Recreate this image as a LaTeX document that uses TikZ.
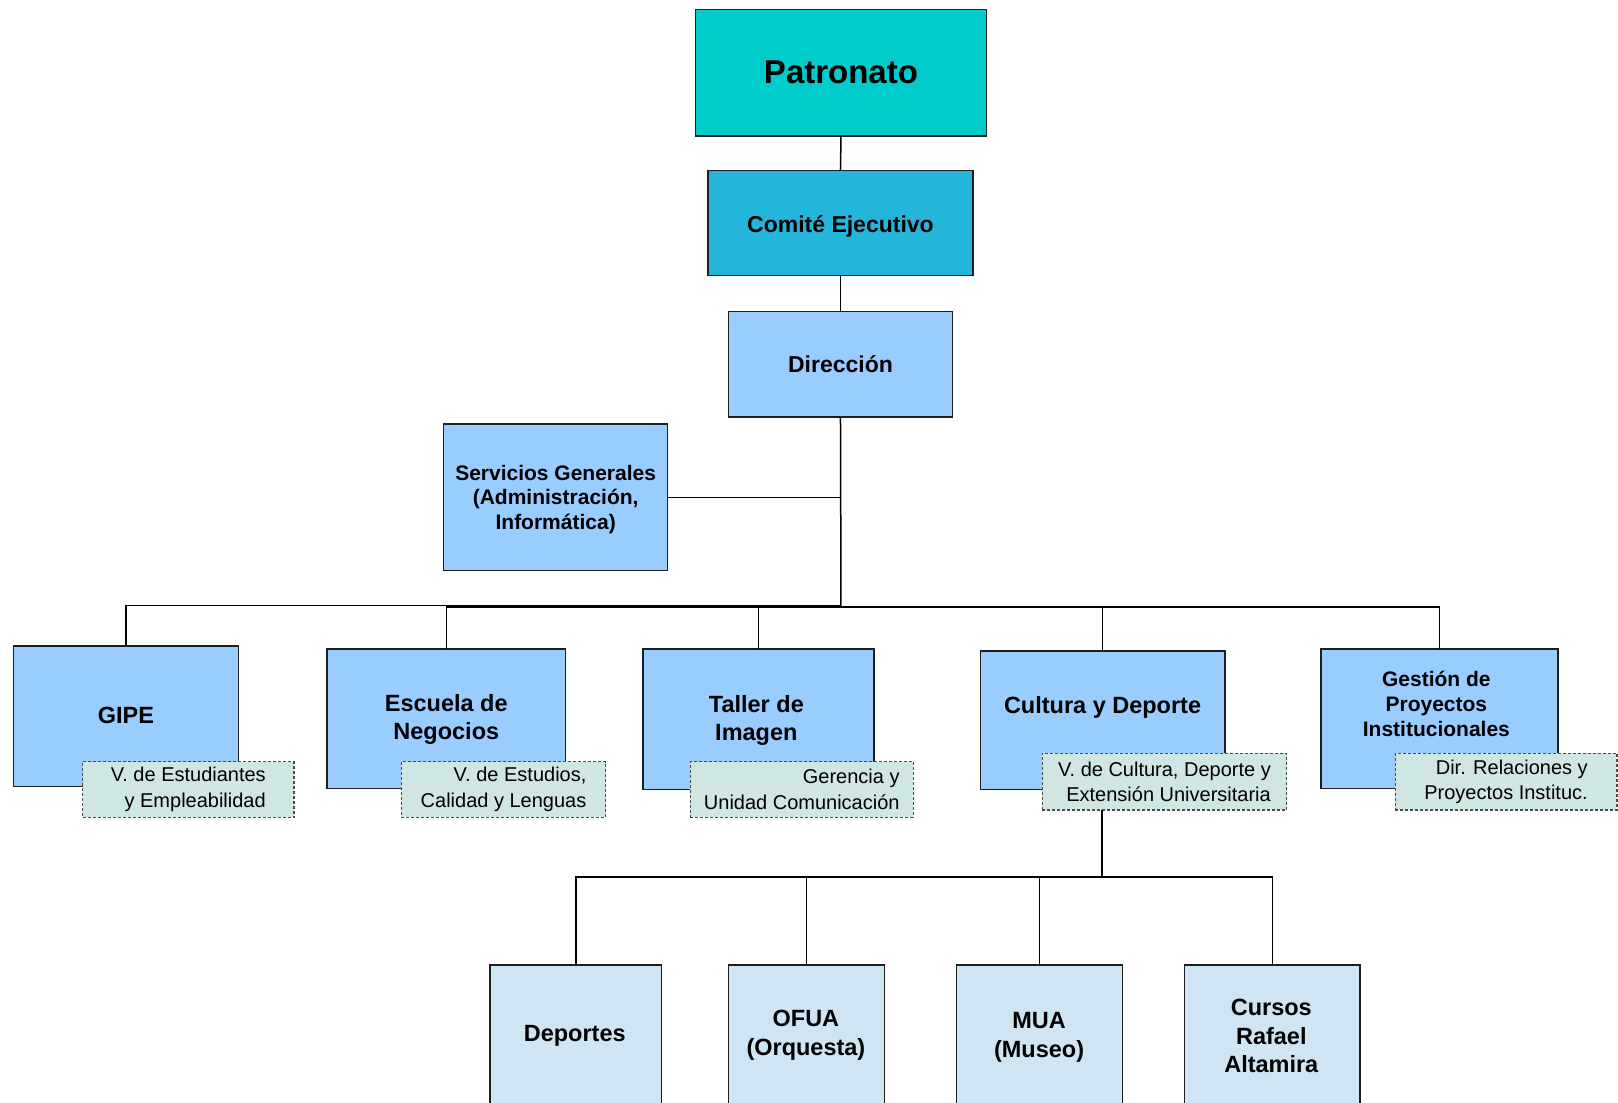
\documentclass[tikz,border=0pt]{standalone}
\usepackage{fontspec}
\setmainfont{Liberation Sans}
\definecolor{patc}{HTML}{00CCCC}
\definecolor{comc}{RGB}{35,181,218}
\definecolor{bluec}{HTML}{99CCFF}
\definecolor{notec}{RGB}{208,230,226}
\definecolor{subc}{RGB}{207,229,243}
\definecolor{edgec}{HTML}{1E1E1E}
\begin{document}
\begin{tikzpicture}[x=1.032pt,y=-1.032pt,
  sz/.style 2 args={minimum width={#1*1.032pt},minimum height={#2*1.032pt}},
  box/.style={draw=edgec,line width=1.5pt,inner sep=0pt,outer sep=0pt,align=center},
  bluebox/.style={box,fill=bluec},
  subbox/.style={box,fill=subc},
  note/.style={draw=edgec!80,line width=1.2pt,dash pattern=on 3pt off 2pt,fill=notec,inner sep=0pt,outer sep=0pt,align=right,font=\fontsize{20}{25.5}\selectfont},
  btxt/.style={align=center,inner sep=0pt,font=\fontsize{23.5}{28.5}\selectfont\bfseries},
  stxt/.style={align=center,inner sep=0pt,font=\fontsize{21}{24.8}\selectfont\bfseries},
  conn/.style={line width=1.5pt,draw=black}]
\clip (0,0) rectangle (1568,1068);
\fill[white] (0,0) rectangle (1568,1068);

% top chain
\node[box,fill=patc,sz={282}{123},font=\fontsize{33}{38}\selectfont\bfseries] (pat) at (815,70.5) {Patronato};
\node[box,fill=comc,sz={257}{102},font=\fontsize{23}{28}\selectfont\bfseries] (com) at (814.5,216) {};
\node[font=\fontsize{23}{28}\selectfont\bfseries,inner sep=0pt] (comt) at (814.5,219) {Comité Ejecutivo};
\node[bluebox,sz={217}{102},font=\fontsize{23}{28}\selectfont\bfseries] (dir) at (814.5,353) {Dirección};
\node[bluebox,sz={217}{142}] (serv) at (538.5,482) {};
\node[stxt] (servt) at (538.5,484) {Servicios Generales\\(Administración,\\Informática)};

% second row
\node[bluebox,sz={218}{136}] (gipe) at (122,694) {};
\node[btxt] (gipet) at (122,693) {GIPE};
\node[bluebox,sz={231}{135}] (esc) at (432.5,696.5) {};
\node[btxt] (esct) at (432.5,697) {Escuela de\\Negocios};
\node[bluebox,sz={224}{136}] (tal) at (735,697) {};
\node[btxt] (talt) at (733,698) {Taller de\\Imagen};
\node[bluebox,sz={237}{134}] (cul) at (1068.5,698) {};
\node[btxt] (cult) at (1068.5,686) {Cultura y Deporte};
\node[bluebox,sz={230}{135}] (ges) at (1395,696.5) {};
\node[stxt] (gest) at (1392,682) {Gestión de\\Proyectos\\Institucionales};

% notes
\node[note,sz={205}{54}] (n1) at (182.5,765) {V. de Estudiantes\\y Empleabilidad};
\node[note,sz={198}{54}] (n2) at (488,765) {V. de Estudios,\\Calidad y Lenguas};
\node[note,sz={216}{54}] (n3) at (777,765) {Gerencia y\\Unidad Comunicación};
\node[note,sz={237}{55}] (n4) at (1128.5,757.5) {V. de Cultura, Deporte y\\Extensión Universitaria};
\node[note,sz={215}{55}] (n5) at (1459.5,757.5) {Dir. Relaciones y\\Proyectos Instituc.};

% bottom row
\node[subbox,sz={166}{150}] (dep) at (558,1010) {};
\node[btxt] (dept) at (557,1004) {Deportes};
\node[subbox,sz={151}{150}] (ofua) at (781.5,1010) {};
\node[btxt] (ofuat) at (781,1003) {OFUA\\(Orquesta)};
\node[subbox,sz={161}{150}] (mua) at (1007.5,1010) {};
\node[btxt] (muat) at (1007,1005.5) {MUA\\(Museo)};
\node[subbox,sz={170}{150}] (cur) at (1233,1010) {};
\node[btxt] (curt) at (1232,1004) {Cursos\\Rafael\\Altamira};

% connectors
\coordinate (busL) at (815,587);
\coordinate (busR) at (815,588);
\coordinate (subB) at (1068,850);
\draw[conn] (pat.south) -- (com.north);
\draw[conn] (com.south) -- (dir.north);
\draw[conn] (dir.south) -- (busL);
\draw[conn] (serv.east) -- (serv.east -| dir.south);
\draw[conn] (gipe.north) |- (busL);
\draw[conn] (esc.north) |- (busR);
\draw[conn] (ges.north) |- (busR);
\draw[conn] (tal.north) -- (tal.north |- busR);
\draw[conn] (cul.north) -- (cul.north |- busR);
\draw[conn] (n4.south -| subB) -- (subB);
\draw[conn] (dep.north) |- (subB);
\draw[conn] (cur.north) |- (subB);
\draw[conn] (ofua.north) -- (ofua.north |- subB);
\draw[conn] (mua.north) -- (mua.north |- subB);
\end{tikzpicture}
\end{document}
